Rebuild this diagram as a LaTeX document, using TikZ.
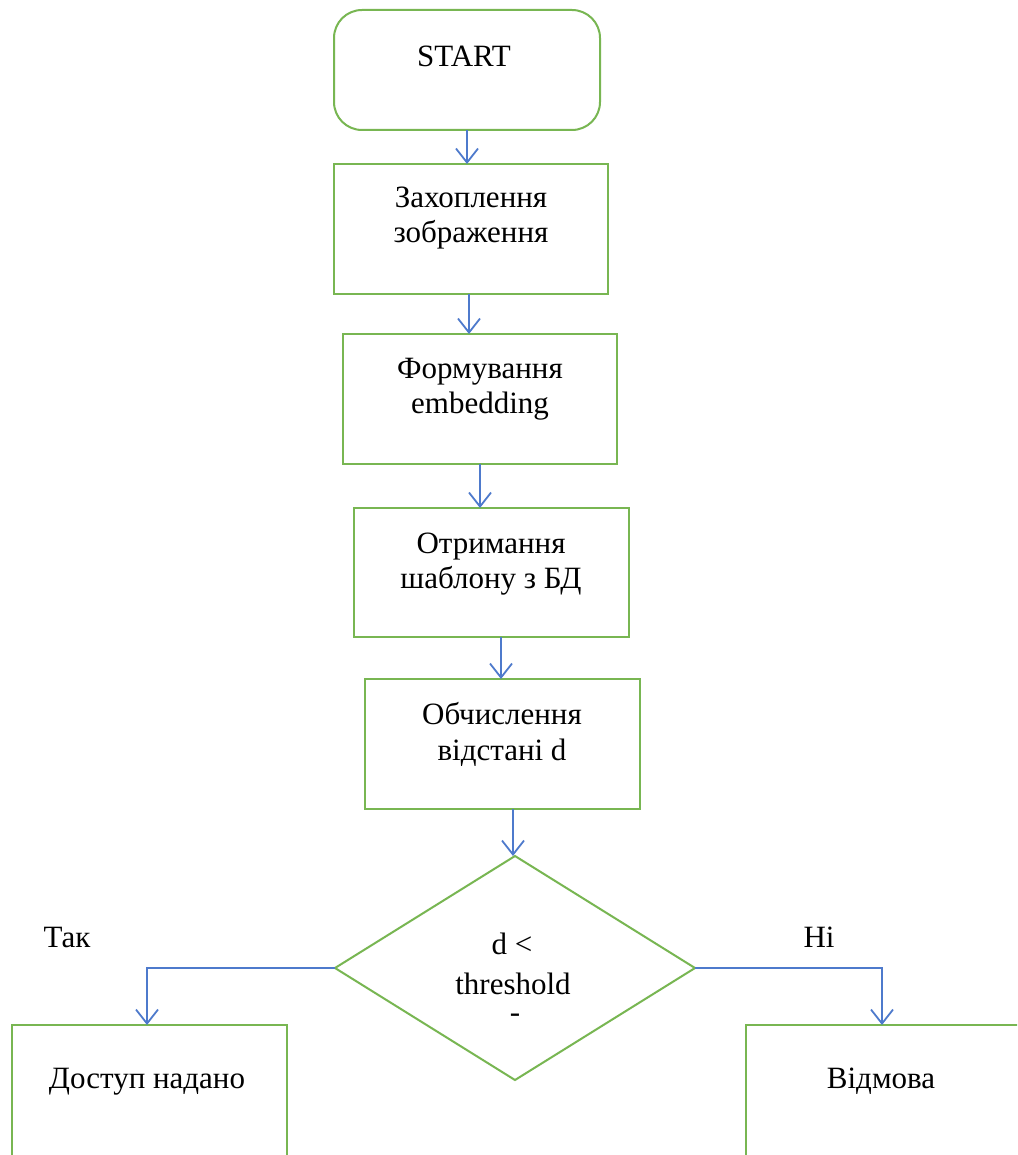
\documentclass[tikz,border=0pt]{standalone}
\usepackage{fontspec}
\setmainfont{Liberation Serif}
\usetikzlibrary{arrows.meta,shapes.geometric}
\definecolor{boxgreen}{RGB}{120,182,82}
\definecolor{flowblue}{RGB}{78,122,204}
\begin{document}
\begin{tikzpicture}[x=1pt,y=-1pt,
  box/.style={draw=boxgreen,line width=2pt,inner sep=0pt,outer sep=0pt,rectangle,
              minimum width=275pt,minimum height=130pt},
  decision/.style={draw=boxgreen,line width=2pt,inner sep=0pt,outer sep=0pt,diamond,
              minimum width=360pt,minimum height=224pt},
  lbl/.style={anchor=base,inner sep=0pt,font=\fontsize{31}{35}\selectfont},
  flow/.style={draw=flowblue,line width=1.8pt,
              -{Straight Barb[length=14pt,width=22pt,line width=1.8pt]}}]
\clip (0,0) rectangle (1017,1155);
\fill[white] (0,0) rectangle (1017,1155);

% process boxes
\node[box,rounded corners=28pt,minimum width=266pt,minimum height=120pt] (start) at (467,70) {};
\node[box,minimum width=274pt] (capture) at (471,229) {};
\node[box,minimum width=274pt] (embed) at (480,399) {};
\node[box,minimum height=129pt] (fetch) at (491.5,572.5) {};
\node[box] (dist) at (502.5,744) {};
\node[decision] (check) at (515,968) {};
\node[box,minimum height=145pt] (grant) at (149.5,1097.5) {};
\node[box,minimum height=145pt] (deny) at (883.5,1097.5) {};

% texts
\node[lbl] (tstart) at (464,67) {START};
\node[lbl] (tcap1) at (471,208) {Захоплення};
\node[lbl] (tcap2) at (471,243) {зображення};
\node[lbl] (temb1) at (480,378) {Формування};
\node[lbl] (temb2) at (480,413) {embedding};
\node[lbl] (tfet1) at (491,553) {Отримання};
\node[lbl] (tfet2) at (491,588) {шаблону з БД};
\node[lbl] (tdis1) at (502,724) {Обчислення};
\node[lbl] (tdis2) at (502,760) {відстані d};
\node[lbl] (tchk1) at (512,954) {d <};
\node[lbl] (tchk2) at (513,994) {threshold};
\node[lbl] (tchk3) at (515,1022) {-};
\node[lbl] (tyes) at (67,947) {Так};
\node[lbl] (tno) at (819,947) {Ні};
\node[lbl] (tgrant) at (147,1088) {Доступ надано};
\node[lbl] (tdeny) at (881,1088) {Відмова};

% connectors
\draw[flow] (start.south) -- (start.south |- capture.north);
\draw[flow] ([xshift=-2pt]capture.south) -- ([xshift=-2pt]capture.south |- embed.north);
\draw[flow] (embed.south) -- (embed.south |- fetch.north);
\draw[flow] ([xshift=9.5pt]fetch.south) -- ([xshift=9.5pt]fetch.south |- dist.north);
\draw[flow] ([xshift=10.5pt]dist.south) -- ([xshift=10.5pt]dist.south |- check.north);
\draw[flow] (check.west) -| ([xshift=-2.5pt]grant.north);
\draw[flow] (check.east) -| ([xshift=-1.5pt]deny.north);
\end{tikzpicture}
\end{document}
